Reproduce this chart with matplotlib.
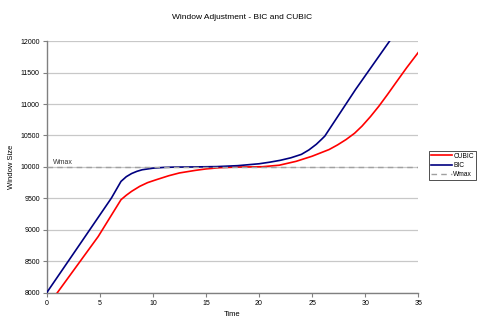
import matplotlib
matplotlib.use("Agg")
import matplotlib.pyplot as plt

plt.rcParams['font.family'] = ['Liberation Sans', 'DejaVu Sans']

# BIC window growth over time
bic_time = [0, 3.0, 6.1, 7.0, 7.5, 8.0, 8.5, 9.0, 10.0, 11.0, 12.0, 14.0, 16.0,
            18.0, 19.0, 20.0, 21.0, 22.0, 23.0, 24.0, 24.7, 25.4, 25.9, 26.2,
            29.1, 32.3]
bic_window = [8000, 8740, 9506, 9770, 9845, 9895, 9930, 9955, 9980, 9992, 9997,
              10000, 10005, 10020, 10035, 10050, 10075, 10105, 10145, 10200,
              10270, 10360, 10440, 10490, 11232, 12000]

# CUBIC window growth over time
cubic_time = [1.0, 4.85, 7.0, 7.5, 8.0, 8.76, 9.5, 10.33, 11.5, 12.5, 14.0, 15.0,
              16.3, 18.0, 20.3, 21.9, 23.5, 25.0, 26.6, 27.4, 28.2, 29.0, 29.7,
              30.5, 31.3, 32.1, 32.9, 33.9, 35.0]
cubic_window = [8000, 8893, 9479, 9550, 9612, 9691, 9750, 9797, 9860, 9904, 9945,
                9968, 9988, 9998, 10003, 10027, 10089, 10170, 10276, 10350, 10435,
                10535, 10648, 10800, 10967, 11150, 11340, 11575, 11819]

wmax = 10000
x_ticks = [0, 5, 10, 15, 20, 25, 30, 35]
y_ticks = [8000, 8500, 9000, 9500, 10000, 10500, 11000, 11500, 12000]

fig = plt.figure(figsize=(4.85, 3.31), dpi=100)
ax = fig.add_axes([0.0963, 0.1157, 0.766, 0.760])

for y in y_ticks:
    ax.axhline(y, color='#c8c8c8', lw=0.9, zorder=0)

ax.plot(cubic_time, cubic_window, color='#ff0000', lw=1.2, label='CUBIC',
        zorder=3, solid_joinstyle='round')
ax.plot(bic_time, bic_window, color='#000080', lw=1.2, label='BIC',
        zorder=4, solid_joinstyle='round')
ax.axhline(wmax, color='#a0a0a0', lw=1.0, ls=(0, (4, 3)), label='Wmax', zorder=5)
ax.text(0.6, wmax + 15, 'Wmax', fontsize=5, color='#333333', va='bottom', ha='left')

ax.set_xlim(0, 35)
ax.set_ylim(8000, 12000)
ax.set_xticks(x_ticks)
ax.set_yticks(y_ticks)
ax.tick_params(labelsize=5, length=3, width=0.8, color='#808080', pad=2)

for side in ('top', 'right'):
    ax.spines[side].set_visible(False)
for side in ('left', 'bottom'):
    ax.spines[side].set_color('#808080')
    ax.spines[side].set_linewidth(1.0)

ax.set_xlabel('Time', fontsize=5.5, labelpad=3)
ax.set_ylabel('Window Size', fontsize=5.5, labelpad=4)
fig.text(0.5, 0.948, 'Window Adjustment - BIC and CUBIC', fontsize=6,
         ha='center', va='center')

leg = fig.legend(loc='upper left', bbox_to_anchor=(0.884, 0.545), fontsize=4.8,
                 frameon=True, fancybox=False, handlelength=3.2,
                 handletextpad=0.2, borderpad=0.3, labelspacing=0.35,
                 borderaxespad=0)
leg.get_frame().set_edgecolor('black')
leg.get_frame().set_linewidth(0.6)

fig.savefig('out.png', dpi=100)
